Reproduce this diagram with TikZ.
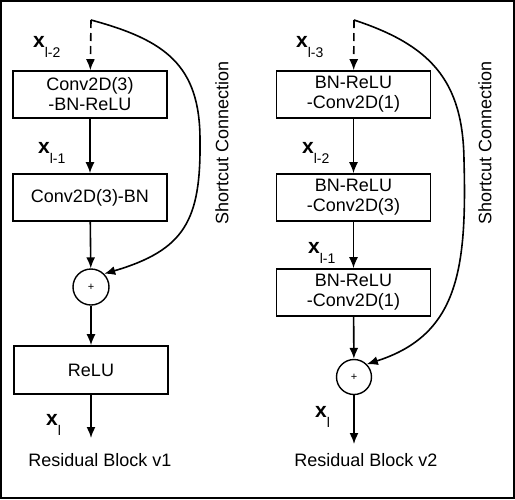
\documentclass[tikz,border=0pt]{standalone}
\usepackage{fontspec}
\setmainfont{Liberation Sans}
\usetikzlibrary{arrows.meta}

\newcommand\xsub[1]{{\fontsize{21}{21}\selectfont\bfseries x}\raisebox{-10pt}{\fontsize{14}{14}\selectfont #1}}

\tikzset{
  blk/.style={draw, line width=1.6pt, minimum width=154pt, minimum height=47pt,
    inner sep=0pt, align=center, font=\fontsize{18}{20}\selectfont},
  sumnode/.style={draw, circle, line width=1.4pt, minimum size=36pt, inner sep=0pt,
    font=\fontsize{11}{11}\selectfont},
  conn/.style={-{Latex[length=11pt,width=9pt]}, line width=1.6pt},
  skip/.style={conn, dash pattern=on 8pt off 5pt},
  lbl/.style={inner sep=0pt, anchor=base west},
  caption/.style={font=\fontsize{18}{20}\selectfont}
}

\begin{document}
\begin{tikzpicture}[x=1pt, y=-1pt]
    \useasboundingbox (0,0) rectangle (515,499);
    \draw[line width=1.5pt] (1,1) rectangle (514,498);

    % Residual Block v1
    \coordinate (top1) at (91,20);
    \coordinate (out1) at (91,438);
    \node[blk] (conv1a) at (90,94.5) {Conv2D(3)\\-BN-ReLU};
    \node[blk] (conv1b) at (90,197.5) {Conv2D(3)-BN};
    \node[sumnode] (add1) at (91,287) {+};
    \node[blk, minimum height=48pt] (relu1) at (91,370) {ReLU};

    \draw[skip] (top1) -- (conv1a);
    \draw[conn] (conv1a) -- (conv1b);
    \draw[conn] (conv1b) -- (add1);
    \draw[conn] (add1) -- (relu1);
    \draw[conn] (relu1) -- (out1);
    \draw[conn] (top1) .. controls (165,40) and (200,65) .. (200,140)
        .. controls (201,220) and (185,250) .. (add1.north east);

    \node[lbl] (xa) at (33,47) {\xsub{l-2}};
    \node[lbl] (xb) at (38,153) {\xsub{l-1}};
    \node[lbl] (xc) at (46,425) {\xsub{l}};
    \node[caption, rotate=90] (sc1) at (222,143) {Shortcut Connection};
    \node[caption] (cap1) at (100,460) {Residual Block v1};

    % Residual Block v2
    \coordinate (top2) at (354,20);
    \coordinate (out2) at (354,444);
    \node[blk] (bn2a) at (353.5,94.5) {BN-ReLU\\-Conv2D(1)};
    \node[blk] (bn2b) at (353.5,197.5) {BN-ReLU\\-Conv2D(3)};
    \node[blk] (bn2c) at (353.5,292.5) {BN-ReLU\\-Conv2D(1)};
    \node[sumnode, minimum size=35pt] (add2) at (354,377) {+};

    \draw[skip] (top2) -- (bn2a);
    \draw[conn] (bn2a) -- (bn2b);
    \draw[conn] (bn2b) -- (bn2c);
    \draw[conn] (bn2c) -- (add2);
    \draw[conn] (add2) -- (out2);
    \draw[conn] (top2) .. controls (430,45) and (463,80) .. (464,160)
        .. controls (467,270) and (458,335) .. (add2.north east);

    \node[lbl] (xd) at (296,47) {\xsub{l-3}};
    \node[lbl] (xe) at (302,153) {\xsub{l-2}};
    \node[lbl] (xf) at (308,253) {\xsub{l-1}};
    \node[lbl] (xg) at (315,417) {\xsub{l}};
    \node[caption, rotate=90] (sc2) at (485,143) {Shortcut Connection};
    \node[caption] (cap2) at (366,460) {Residual Block v2};
\end{tikzpicture}
\end{document}
